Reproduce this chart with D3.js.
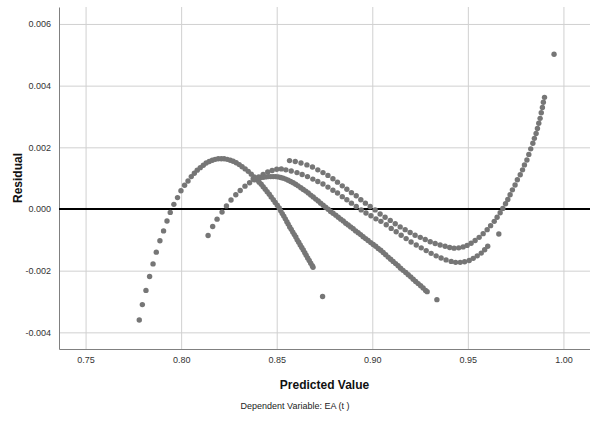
<!DOCTYPE html>
<html>
<head>
<meta charset="utf-8">
<script src="https://cdn.jsdelivr.net/npm/d3@7/dist/d3.min.js"></script>
<style>
    body { margin: 0; background: #fff; }
    svg { display: block; font-family: "Liberation Sans", Arial, sans-serif; }
</style>
</head>
<body>
<svg id="chart" width="590" height="421"></svg>
<script>
// residual vs predicted
var xTicks = [0.75, 0.80, 0.85, 0.90, 0.95, 1.00];
var yTicks = [-0.004, -0.002, 0.000, 0.002, 0.004, 0.006];

// first arc, rising from 0.778 and falling back to 0.869
var arcA = [
    [0.7781, -0.00360], [0.7797, -0.00310], [0.7816, -0.00264], [0.7835, -0.00219],
    [0.7853, -0.00178], [0.7870, -0.00140], [0.7889, -0.00103], [0.7908, -0.00071],
    [0.7926, -0.00039], [0.7943, -0.00011], [0.7962, 0.00015], [0.7981, 0.00037],
    [0.7999, 0.00059], [0.8018, 0.00077], [0.8036, 0.00091], [0.8053, 0.00105],
    [0.8069, 0.00116], [0.8084, 0.00126], [0.8100, 0.00134], [0.8116, 0.00142],
    [0.8131, 0.00149], [0.8147, 0.00154], [0.8163, 0.00158], [0.8178, 0.00161],
    [0.8194, 0.00163], [0.8210, 0.00163], [0.8225, 0.00163], [0.8241, 0.00161],
    [0.8257, 0.00158], [0.8272, 0.00155], [0.8288, 0.00150], [0.8304, 0.00144],
    [0.8319, 0.00137], [0.8335, 0.00130], [0.8351, 0.00122], [0.8367, 0.00113],
    [0.8382, 0.00104], [0.8398, 0.00094], [0.8408, 0.00087], [0.8419, 0.00080],
    [0.8429, 0.00072], [0.8440, 0.00064], [0.8450, 0.00056], [0.8461, 0.00048],
    [0.8471, 0.00039], [0.8482, 0.00030], [0.8492, 0.00021], [0.8503, 0.00012],
    [0.8513, 0.00003], [0.8521, -0.00006], [0.8529, -0.00015], [0.8537, -0.00023],
    [0.8545, -0.00032], [0.8553, -0.00041], [0.8560, -0.00049], [0.8568, -0.00058],
    [0.8576, -0.00066], [0.8584, -0.00075], [0.8592, -0.00083], [0.8600, -0.00091],
    [0.8607, -0.00100], [0.8615, -0.00108], [0.8623, -0.00117], [0.8631, -0.00125],
    [0.8639, -0.00133], [0.8647, -0.00142], [0.8654, -0.00150], [0.8662, -0.00159],
    [0.8670, -0.00167], [0.8678, -0.00176], [0.8686, -0.00184], [0.8690, -0.00189]
];

// middle dotted curve, from 0.814 to 0.960
var arcB = [
    [0.8141, -0.00086], [0.8165, -0.00057], [0.8188, -0.00033], [0.8214, -0.00010],
    [0.8237, 0.00010], [0.8261, 0.00029], [0.8286, 0.00046], [0.8309, 0.00060],
    [0.8334, 0.00074], [0.8358, 0.00085], [0.8382, 0.00095], [0.8406, 0.00104],
    [0.8429, 0.00112], [0.8453, 0.00120], [0.8476, 0.00125], [0.8500, 0.00129],
    [0.8524, 0.00130], [0.8548, 0.00127], [0.8576, 0.00123], [0.8606, 0.00118],
    [0.8633, 0.00112], [0.8661, 0.00105], [0.8689, 0.00097], [0.8715, 0.00089],
    [0.8742, 0.00081], [0.8768, 0.00071], [0.8794, 0.00061], [0.8818, 0.00052],
    [0.8843, 0.00040], [0.8867, 0.00030], [0.8891, 0.00019], [0.8916, 0.00008],
    [0.8942, -0.00003], [0.8967, -0.00013], [0.8993, -0.00022], [0.9019, -0.00032],
    [0.9045, -0.00040], [0.9073, -0.00051], [0.9099, -0.00063], [0.9125, -0.00074],
    [0.9151, -0.00085], [0.9177, -0.00096], [0.9203, -0.00107], [0.9230, -0.00117],
    [0.9256, -0.00126], [0.9282, -0.00135], [0.9308, -0.00144], [0.9334, -0.00152],
    [0.9360, -0.00159], [0.9386, -0.00165], [0.9413, -0.00170], [0.9436, -0.00173],
    [0.9460, -0.00173], [0.9483, -0.00171], [0.9507, -0.00167], [0.9528, -0.00160],
    [0.9549, -0.00152], [0.9570, -0.00143], [0.9588, -0.00132], [0.9604, -0.00121]
];

// upper dotted curve, turning up to 0.990
var arcC = [
    [0.8567, 0.00157], [0.8597, 0.00154], [0.8627, 0.00149], [0.8658, 0.00143],
    [0.8687, 0.00136], [0.8715, 0.00127], [0.8742, 0.00118], [0.8768, 0.00109],
    [0.8794, 0.00098], [0.8818, 0.00087], [0.8843, 0.00075], [0.8867, 0.00064],
    [0.8891, 0.00053], [0.8916, 0.00043], [0.8940, 0.00030], [0.8964, 0.00019],
    [0.8989, 0.00008], [0.9015, -0.00003], [0.9041, -0.00016], [0.9067, -0.00027],
    [0.9094, -0.00037], [0.9120, -0.00048], [0.9146, -0.00058], [0.9172, -0.00067],
    [0.9198, -0.00076], [0.9224, -0.00085], [0.9251, -0.00092], [0.9277, -0.00099],
    [0.9303, -0.00106], [0.9329, -0.00112], [0.9355, -0.00117], [0.9381, -0.00121],
    [0.9405, -0.00125], [0.9428, -0.00127], [0.9452, -0.00126], [0.9475, -0.00123],
    [0.9496, -0.00118], [0.9517, -0.00111], [0.9538, -0.00102], [0.9559, -0.00092],
    [0.9580, -0.00080], [0.9601, -0.00067], [0.9619, -0.00054], [0.9638, -0.00040],
    [0.9653, -0.00027], [0.9669, -0.00012], [0.9683, 0.00002], [0.9697, 0.00017],
    [0.9709, 0.00031], [0.9721, 0.00046], [0.9733, 0.00062], [0.9747, 0.00078],
    [0.9759, 0.00095], [0.9774, 0.00111], [0.9786, 0.00127], [0.9796, 0.00143],
    [0.9809, 0.00159], [0.9819, 0.00177], [0.9829, 0.00195], [0.9840, 0.00213],
    [0.9848, 0.00229], [0.9857, 0.00245], [0.9864, 0.00261], [0.9871, 0.00278],
    [0.9878, 0.00294], [0.9884, 0.00312], [0.9890, 0.00329], [0.9895, 0.00346],
    [0.9901, 0.00362]
];

// dense lower band, from 0.838 down to 0.929
var arcD = [
    [0.8377, 0.00098], [0.8390, 0.00099], [0.8403, 0.00101], [0.8416, 0.00102],
    [0.8429, 0.00103], [0.8443, 0.00104], [0.8456, 0.00105], [0.8469, 0.00105],
    [0.8482, 0.00105], [0.8495, 0.00105], [0.8508, 0.00104], [0.8521, 0.00102],
    [0.8534, 0.00100], [0.8547, 0.00097], [0.8560, 0.00093], [0.8573, 0.00089],
    [0.8586, 0.00085], [0.8599, 0.00080], [0.8612, 0.00075], [0.8626, 0.00069],
    [0.8639, 0.00063], [0.8652, 0.00058], [0.8665, 0.00052], [0.8678, 0.00045],
    [0.8691, 0.00039], [0.8704, 0.00032], [0.8717, 0.00026], [0.8730, 0.00019],
    [0.8743, 0.00012], [0.8756, 0.00006], [0.8769, -0.00001], [0.8782, -0.00008],
    [0.8795, -0.00014], [0.8809, -0.00020], [0.8822, -0.00027], [0.8835, -0.00033],
    [0.8848, -0.00039], [0.8861, -0.00046], [0.8874, -0.00052], [0.8887, -0.00058],
    [0.8900, -0.00064], [0.8913, -0.00071], [0.8926, -0.00077], [0.8939, -0.00083],
    [0.8952, -0.00090], [0.8965, -0.00096], [0.8978, -0.00102], [0.8992, -0.00109],
    [0.9005, -0.00115], [0.9018, -0.00121], [0.9031, -0.00128], [0.9044, -0.00134],
    [0.9057, -0.00141], [0.9070, -0.00148], [0.9083, -0.00156], [0.9096, -0.00163],
    [0.9109, -0.00170], [0.9122, -0.00177], [0.9135, -0.00184], [0.9148, -0.00192],
    [0.9161, -0.00199], [0.9175, -0.00206], [0.9188, -0.00213], [0.9201, -0.00220],
    [0.9214, -0.00228], [0.9227, -0.00235], [0.9240, -0.00242], [0.9253, -0.00249],
    [0.9266, -0.00256], [0.9279, -0.00264], [0.9287, -0.00268]
];

// stray points
var loose = [
    [0.8740, -0.00284], [0.9338, -0.00294], [0.9662, -0.00081], [0.9951, 0.00502]
];

var margin = {
        top: 7,
        right: 0,
        bottom: 72,
        left: 59
    },
    width = 590 - margin.left - margin.right,
    height = 421 - margin.top - margin.bottom;

var svg = d3.select('#chart');
var g = svg.append('g')
    .attr('transform', 'translate(' + margin.left + ',' + margin.top + ')');

var x = d3.scaleLinear().domain([0.7361, 1.0139]).range([0, width]);
var y = d3.scaleLinear().domain([-0.00454, 0.00655]).range([height, 0]);

// grid
g.append('g')
    .attr('class', 'grid')
    .attr('transform', 'translate(0,' + height + ')')
    .call(d3.axisBottom(x).tickValues(xTicks).tickSize(-height).tickFormat(''));
g.append('g')
    .attr('class', 'grid')
    .call(d3.axisLeft(y).tickValues(yTicks).tickSize(-width).tickFormat(''));
g.selectAll('.grid .domain').remove();
g.selectAll('.grid line').attr('stroke', '#d0d0d0').attr('stroke-width', 1);

// axes
var xAxis = g.append('g')
    .attr('transform', 'translate(0,' + height + ')')
    .call(d3.axisBottom(x).tickValues(xTicks).tickSize(0).tickPadding(8)
        .tickFormat(function(d) { return d.toFixed(2); }));
var yAxis = g.append('g')
    .call(d3.axisLeft(y).tickValues(yTicks).tickSize(0).tickPadding(8)
        .tickFormat(function(d) { return d.toFixed(3); }));

[xAxis, yAxis].forEach(function(a) {
    a.select('.domain').attr('stroke', '#808080').attr('stroke-width', 1);
    a.selectAll('text')
        .attr('fill', '#333')
        .style('font-size', '9px')
        .style('font-family', '"Liberation Sans", Arial, sans-serif');
});

// reference line at zero
g.append('line')
    .attr('x1', 0)
    .attr('x2', width)
    .attr('y1', y(0))
    .attr('y2', y(0))
    .attr('stroke', '#000')
    .attr('stroke-width', 2.2);

var points = [].concat(arcA, arcB, arcC, arcD, loose);

g.append('g')
    .selectAll('circle')
    .data(points)
    .enter().append('circle')
    .attr('cx', function(d) { return x(d[0]); })
    .attr('cy', function(d) { return y(d[1]); })
    .attr('r', 2.7)
    .attr('fill', '#767676');

// titles
svg.append('text')
    .attr('transform', 'translate(18,' + (margin.top + height / 2) + ') rotate(-90)')
    .attr('text-anchor', 'middle')
    .attr('dy', '0.35em')
    .style('font-size', '12px')
    .style('font-weight', 'bold')
    .attr('fill', '#111')
    .text('Residual');

svg.append('text')
    .attr('x', margin.left + width / 2)
    .attr('y', 389)
    .attr('text-anchor', 'middle')
    .style('font-size', '12px')
    .style('font-weight', 'bold')
    .attr('fill', '#111')
    .text('Predicted Value');

svg.append('text')
    .attr('x', 295)
    .attr('y', 409)
    .attr('text-anchor', 'middle')
    .style('font-size', '9px')
    .attr('fill', '#222')
    .text('Dependent Variable: EA (t )');
</script>
</body>
</html>
